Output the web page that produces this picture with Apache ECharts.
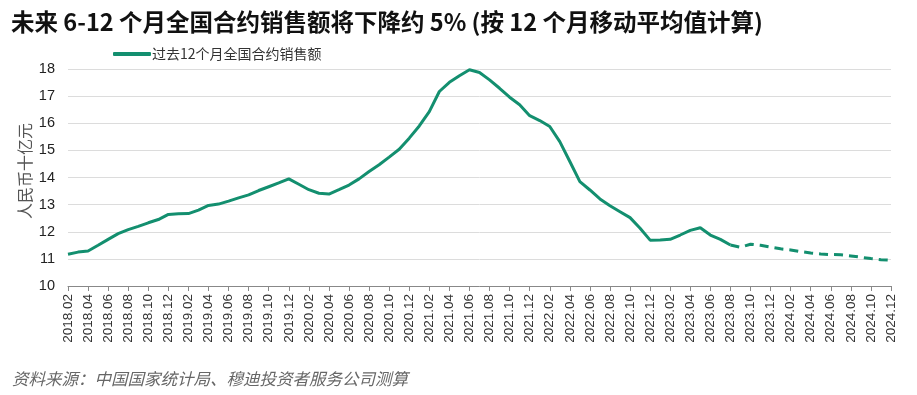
<!DOCTYPE html>
<html>
<head>
<meta charset="utf-8">
<script src="https://cdn.jsdelivr.net/npm/echarts@6/dist/echarts.min.js"></script>
<style>
html,body{margin:0;padding:0;background:#fff;}
#c{width:917px;height:395px;}
</style>
</head>
<body>
<div id="c"></div>
<script>
const categories = [
'2018.02','2018.03','2018.04','2018.05','2018.06','2018.07','2018.08','2018.09','2018.10','2018.11','2018.12',
'2019.01','2019.02','2019.03','2019.04','2019.05','2019.06','2019.07','2019.08','2019.09','2019.10','2019.11','2019.12',
'2020.01','2020.02','2020.03','2020.04','2020.05','2020.06','2020.07','2020.08','2020.09','2020.10','2020.11','2020.12',
'2021.01','2021.02','2021.03','2021.04','2021.05','2021.06','2021.07','2021.08','2021.09','2021.10','2021.11','2021.12',
'2022.01','2022.02','2022.03','2022.04','2022.05','2022.06','2022.07','2022.08','2022.09','2022.10','2022.11','2022.12',
'2023.01','2023.02','2023.03','2023.04','2023.05','2023.06','2023.07','2023.08','2023.09','2023.10','2023.11','2023.12',
'2024.01','2024.02','2024.03','2024.04','2024.05','2024.06','2024.07','2024.08','2024.09','2024.10','2024.11','2024.12'
];
// actual: 2018.02 - 2023.08
const actualValues = [
11.17,11.25,11.29,11.50,11.72,11.93,12.08,12.20,12.33,12.45,12.64,
12.66,12.67,12.80,12.97,13.02,13.13,13.25,13.36,13.52,13.66,13.80,13.95,
13.75,13.55,13.42,13.39,13.55,13.72,13.95,14.22,14.47,14.75,15.04,15.45,
15.90,16.43,17.17,17.51,17.75,17.97,17.87,17.60,17.29,16.96,16.68,16.28,
16.10,15.88,15.32,14.59,13.85,13.54,13.21,12.96,12.74,12.52,12.13,11.69,
11.70,11.72,11.88,12.05,12.15,11.88,11.72,11.51
];
// forecast: 2023.08 - 2024.12
const forecastValues = [
11.51,11.43,11.54,11.50,11.43,
11.37,11.33,11.27,11.22,11.18,11.16,11.15,11.11,11.06,11.01,10.97,10.95
];
const yTicks = {min:10, max:18, interval:1};
const seriesName = '过去12个月全国合约销售额';
const titleText = '未来 6-12 个月全国合约销售额将下降约 5% (按 12 个月移动平均值计算)';
const sourceText = '资料来源：中国国家统计局、穆迪投资者服务公司测算';
const yName = '人民币十亿元';

const n = categories.length;
const solid = categories.map((c,i)=> i < actualValues.length ? actualValues[i] : null);
const fStart = n - forecastValues.length;
const dashed = categories.map((c,i)=> i >= fStart ? forecastValues[i - fStart] : null);

const color = '#138f6f';
const chart = echarts.init(document.getElementById('c'), null, {renderer:'canvas'});
chart.setOption({
  animation:false,
  backgroundColor:'#fff',
  title:{
    text:titleText, left:11, top:10, padding:0,
    textStyle:{fontFamily:'Noto Sans CJK SC', fontSize:23.5, fontWeight:'bold', color:'#111'}
  },
  legend:{
    data:[seriesName], left:113, top:47, padding:0,
    icon:'roundRect', itemWidth:38, itemHeight:4,
    itemStyle:{color:color},
    textStyle:{fontFamily:'Noto Sans CJK SC', fontSize:14, color:'#333', padding:[0,0,0,-4]}
  },
  grid:{left:68, right:26, top:69, bottom:109, containLabel:false},
  xAxis:{
    type:'category', data:categories, boundaryGap:false,
    axisLine:{lineStyle:{color:'#888', width:1}},
    axisTick:{interval:1, length:5, lineStyle:{color:'#888'}},
    axisLabel:{interval:1, rotate:90, fontFamily:'Liberation Sans, Arial', fontSize:13.5, color:'#333', margin:8}
  },
  yAxis:{
    type:'value', min:yTicks.min, max:yTicks.max, interval:yTicks.interval,
    axisLine:{show:false}, axisTick:{show:false},
    axisLabel:{fontFamily:'Liberation Sans, Arial', fontSize:14.5, color:'#222', margin:13},
    splitLine:{lineStyle:{color:'#dcdcdc', width:1}}
  },
  series:[
    {name:seriesName, type:'line', data:solid, symbol:'none', smooth:false,
     lineStyle:{color:color, width:3}, itemStyle:{color:color}},
    {name:'forecast', type:'line', data:dashed, symbol:'none',
     lineStyle:{color:color, width:3, type:[9,6]}, itemStyle:{color:color}}
  ],
  graphic:[
    {type:'text', x:25, y:171, rotation:Math.PI/2,
     style:{text:yName, fontFamily:'Noto Sans CJK SC', fontSize:16, fill:'#555', align:'center', verticalAlign:'middle'}},
    {type:'text', left:12, top:370,
     style:{text:sourceText, fontFamily:'Noto Sans CJK SC', fontStyle:'italic', fontSize:16.5, fill:'#666'}}
  ]
});
</script>
</body>
</html>
